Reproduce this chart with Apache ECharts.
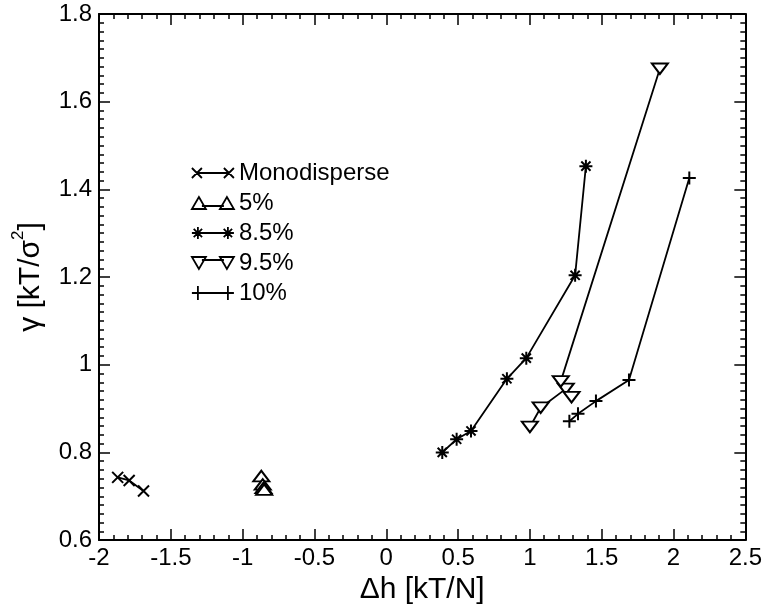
<!DOCTYPE html>
<html>
<head>
<meta charset="utf-8">
<script src="https://cdn.jsdelivr.net/npm/echarts@6/dist/echarts.min.js"></script>
<style>html,body{margin:0;padding:0;background:#fff;}#c{width:765px;height:610px;}</style>
</head>
<body>
<div id="c"></div>
<script>
// ---- data ----
const seriesNames = ['Monodisperse', '5%', '8.5%', '9.5%', '10%'];
const monoData = [[-1.87, 0.743], [-1.79, 0.736], [-1.69, 0.712]];
const p5Data = [[-0.87, 0.746], [-0.86, 0.727], [-0.855, 0.719], [-0.85, 0.715]];
const p85Data = [[0.39, 0.800], [0.49, 0.830], [0.59, 0.849], [0.84, 0.968], [0.975, 1.015], [1.315, 1.204], [1.39, 1.453]];
const p95Data = [[1.00, 0.858], [1.075, 0.902], [1.25, 0.945], [1.29, 0.926], [1.215, 0.962], [1.905, 1.675]];
const p10Data = [[1.275, 0.871], [1.335, 0.888], [1.46, 0.917], [1.69, 0.965], [2.11, 1.426]];
const xTicks = [-2, -1.5, -1, -0.5, 0, 0.5, 1, 1.5, 2, 2.5];
const yTicks = [0.6, 0.8, 1, 1.2, 1.4, 1.6, 1.8];

// ---- symbols ----
const SYM_X = 'path://M0,0L10,10M10,0L0,10';
const SYM_TU = 'path://M8,0L16,13L0,13Z';
const SYM_ST = 'path://M6.5,0L6.5,13M0,6.5L13,6.5M1.9,1.9L11.1,11.1M11.1,1.9L1.9,11.1';
const SYM_TD = 'path://M0,0L16,0L8,13Z';
const SYM_PL = 'path://M6.5,0L6.5,13M0,6.5L13,6.5';

const ICON_X = 'path://M0,2L10,12M10,2L0,12M32,2L42,12M42,2L32,12M5,7L37,7';
const ICON_TU = 'path://M7,1L14,13L0,13ZM35,1L42,13L28,13ZM10,10L32,10';
const ICON_ST = 'path://M6,1L6,13M0,7L12,7M1.8,2.8L10.2,11.2M10.2,2.8L1.8,11.2M36,1L36,13M30,7L42,7M31.8,2.8L40.2,11.2M40.2,2.8L31.8,11.2M6,7L36,7';
const ICON_TD = 'path://M0,1L14,1L7,13ZM28,1L42,1L35,13ZM10,4L32,4';
const ICON_PL = 'path://M6,0L6,14M0,7L12,7M36,0L36,14M30,7L42,7M6,7L36,7';

const FONT = 'Liberation Sans, Arial, Helvetica, sans-serif';

function mk(name, data, sym, size, fill) {
  return {
    name: name, type: 'line', data: data,
    xAxisIndex: 0, yAxisIndex: 0,
    symbol: sym, symbolSize: size, symbolKeepAspect: true,
    showAllSymbol: true,
    itemStyle: { color: fill, borderColor: '#000', borderWidth: 2 },
    lineStyle: { color: '#000', width: 1.8 },
    emphasis: { disabled: true },
    animation: false
  };
}

const axisCommon = {
  type: 'value',
  axisLine: { show: true, onZero: false, lineStyle: { color: '#000', width: 2 } },
  axisTick: { show: true, inside: true, length: 11, lineStyle: { color: '#000', width: 1.5 } },
  minorTick: { show: true, length: 5, lineStyle: { color: '#000', width: 1.5 } },
  splitLine: { show: false },
  minorSplitLine: { show: false }
};

const chart = echarts.init(document.getElementById('c'), null, { renderer: 'canvas' });
chart.setOption({
  backgroundColor: '#fff',
  animation: false,
  grid: { left: 99, right: 19, top: 14, bottom: 67, containLabel: false },
  xAxis: [
    Object.assign({}, axisCommon, {
      position: 'bottom', min: xTicks[0], max: xTicks[xTicks.length - 1], interval: 0.5,
      minorTick: Object.assign({}, axisCommon.minorTick, { splitNumber: 5 }),
      axisLabel: { color: '#000', fontSize: 24, fontFamily: FONT, margin: 6 },
      name: 'Δh [kT/N]', nameLocation: 'middle', nameGap: 31,
      nameTextStyle: { color: '#000', fontSize: 30, fontFamily: FONT }
    }),
    Object.assign({}, axisCommon, {
      position: 'top', min: xTicks[0], max: xTicks[xTicks.length - 1], interval: 0.5,
      minorTick: Object.assign({}, axisCommon.minorTick, { splitNumber: 5 }),
      axisLabel: { show: false }
    })
  ],
  yAxis: [
    Object.assign({}, axisCommon, {
      position: 'left', min: yTicks[0], max: yTicks[yTicks.length - 1], interval: 0.2,
      minorTick: Object.assign({}, axisCommon.minorTick, { splitNumber: 10 }),
      axisLabel: { color: '#000', fontSize: 24, fontFamily: FONT, margin: 7,
        formatter: function (v) { return String(Math.round(v * 10) / 10); } },
      name: 'γ [kT/σ{sup|2}]', nameLocation: 'middle', nameGap: 48, nameRotate: 90,
      nameTextStyle: { color: '#000', fontSize: 30, fontFamily: FONT,
        rich: { sup: { fontSize: 17, fontFamily: FONT, color: '#000', padding: [0, 0, 24, 0] } } }
    }),
    Object.assign({}, axisCommon, {
      position: 'right', min: yTicks[0], max: yTicks[yTicks.length - 1], interval: 0.2,
      minorTick: Object.assign({}, axisCommon.minorTick, { splitNumber: 10 }),
      axisLabel: { show: false }
    })
  ],
  legend: {
    orient: 'vertical', left: 186, top: 156,
    itemWidth: 42, itemHeight: 14, itemGap: 6,
    symbolKeepAspect: true,
    selectedMode: false,
    textStyle: { color: '#000', fontSize: 24, fontFamily: FONT },
    itemStyle: { color: '#fff', borderColor: '#000', borderWidth: 1.8 },
    data: [
      { name: seriesNames[0], icon: ICON_X },
      { name: seriesNames[1], icon: ICON_TU },
      { name: seriesNames[2], icon: ICON_ST },
      { name: seriesNames[3], icon: ICON_TD },
      { name: seriesNames[4], icon: ICON_PL }
    ]
  },
  series: [
    mk(seriesNames[0], monoData, SYM_X, 11, '#000'),
    mk(seriesNames[1], p5Data, SYM_TU, [16, 13], '#fff'),
    mk(seriesNames[2], p85Data, SYM_ST, 13, '#000'),
    mk(seriesNames[3], p95Data, SYM_TD, [16, 13], '#fff'),
    mk(seriesNames[4], p10Data, SYM_PL, 13, '#000')
  ]
});
</script>
</body>
</html>
